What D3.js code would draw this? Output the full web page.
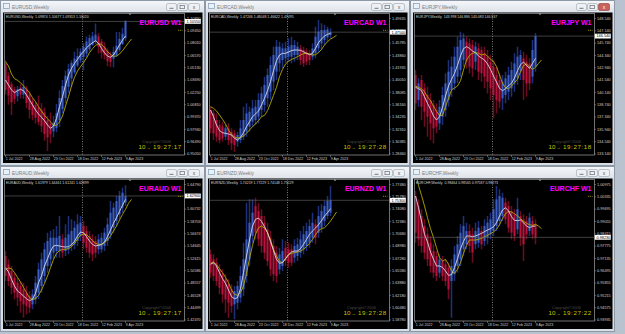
<!DOCTYPE html>
<html><head><meta charset="utf-8">
<script src="https://cdn.jsdelivr.net/npm/d3@7"></script>
<style>body{margin:0;background:#b9c3cf;overflow:hidden}svg{display:block}</style>
</head><body>
<svg id="c" width="625" height="334"></svg>
<script>
// ---------- data ----------
const xLabels = ["1 Jul 2022","28 Aug 2022","23 Oct 2022","18 Dec 2022","12 Feb 2023","9 Apr 2023"];
const xLabelBars = [0,8,16,24,32,40];
const pairNames = ["EURUSD","EURCAD","EURJPY","EURAUD","EURNZD","EURCHF"];
const headers = [
 "EURUSD,Weekly  1.09874 1.10677 1.09313 1.10020",
 "EURCAD,Weekly  1.47246 1.48048 1.46622 1.47495",
 "EURJPY,Weekly  143.998 146.886 143.083 146.537",
 "EURAUD,Weekly  1.61979 1.64461 1.61241 1.62899",
 "EURNZD,Weekly  1.74219 1.77229 1.74148 1.75229",
 "EURCHF,Weekly  0.98464 0.98565 0.97587 0.98273"];
const timers = ["19:27:17","19:27:28","19:27:18","19:27:17","19:27:28","19:27:22"];

const usdTicks = ["0.95050","0.96490","0.97930","0.99370","1.00810","1.02250","1.03690","1.05130","1.06570","1.08010","1.09450","1.10890"];
const cadTicks = ["1.28460","1.30385","1.32310","1.34235","1.36160","1.38085","1.40010","1.41935","1.43860","1.45785","1.47710","1.49635"];
const jpyTicks = ["133.140","134.540","135.940","137.340","138.740","140.140","141.540","142.940","144.340","145.740","147.140","148.540"];
const audTicks = ["1.42470","1.44499","1.46528","1.48557","1.50586","1.52615","1.54645","1.56674","1.58703","1.60732","1.62761","1.64790"];
const nzdTicks = ["1.58780","1.60480","1.62180","1.63880","1.65580","1.67280","1.68980","1.70680","1.72380","1.74080","1.75780","1.77480"];
const chfTicks = ["0.93935","0.94575","0.95215","0.95855","0.96495","0.97135","0.97775","0.98415","0.99055","0.99695","1.00335","1.00975"];

const usdO = [1.0560,1.0420,1.0320,1.0260,1.0180,1.0280,1.0200,1.0270,1.0200,1.0130,1.0080,1.0050,1.0020,0.9990,0.9900,0.9860,0.9770,0.9810,0.9900,1.0030,1.0160,1.0290,1.0390,1.0460,1.0540,1.0600,1.0640,1.0680,1.0730,1.0780,1.0820,1.0880,1.0820,1.0760,1.0710,1.0660,1.0620,1.0660,1.0720,1.0790,1.0860];
const usdH = [1.0600,1.0460,1.0350,1.0290,1.0300,1.0320,1.0370,1.0300,1.0240,1.0160,1.0110,1.0190,1.0100,1.0050,0.9950,0.9990,0.9950,1.0090,1.0250,1.0370,1.0480,1.0560,1.0600,1.0700,1.0740,1.0740,1.0800,1.0880,1.0900,1.0930,1.1030,1.0920,1.0850,1.0810,1.0740,1.0700,1.0760,1.0930,1.0930,1.0980,1.1070];
const usdL = [1.0200,1.0080,0.9960,1.0090,1.0120,1.0150,1.0150,1.0040,0.9920,0.9900,0.9860,0.9840,0.9760,0.9660,0.9540,0.9630,0.9700,0.9760,0.9820,0.9980,1.0100,1.0220,1.0290,1.0440,1.0520,1.0570,1.0480,1.0640,1.0700,1.0770,1.0790,1.0680,1.0620,1.0610,1.0530,1.0520,1.0520,1.0640,1.0700,1.0780,1.0830];
const usdC = [1.0250,1.0190,1.0110,1.0150,1.0260,1.0200,1.0290,1.0100,1.0020,0.9960,0.9930,0.9880,0.9830,0.9740,0.9700,0.9740,0.9870,0.9980,1.0160,1.0300,1.0420,1.0500,1.0570,1.0620,1.0650,1.0700,1.0760,1.0820,1.0860,1.0880,1.0900,1.0760,1.0690,1.0660,1.0590,1.0580,1.0700,1.0770,1.0850,1.0910,1.1055];
const usdW = [1.0370,1.0311,1.0253,1.0222,1.0245,1.0261,1.0245,1.0195,1.0136,1.0078,1.0019,0.9973,0.9934,0.9894,0.9844,0.9805,0.9832,0.9922,1.0058,1.0175,1.0311,1.0428,1.0506,1.0565,1.0612,1.0662,1.0701,1.0747,1.0779,1.0806,1.0829,1.0799,1.0740,1.0689,1.0650,1.0635,1.0662,1.0721,1.0779,1.0837,1.0884];
const usdY = [1.0584,1.0534,1.0440,1.0386,1.0366,1.0339,1.0300,1.0261,1.0222,1.0163,1.0117,1.0058,1.0008,0.9957,0.9918,0.9879,0.9840,0.9840,0.9879,0.9949,1.0066,1.0175,1.0300,1.0401,1.0475,1.0526,1.0572,1.0627,1.0689,1.0736,1.0775,1.0795,1.0787,1.0752,1.0701,1.0670,1.0647,1.0650,1.0674,1.0713,1.0759,1.0806,1.0849];

const cadO = [1.3533,1.3481,1.3377,1.3299,1.3273,1.3117,1.3247,1.3195,1.3169,1.3039,1.3065,1.3117,1.3195,1.3273,1.3351,1.3377,1.3429,1.3533,1.3612,1.3716,1.3820,1.3976,1.4133,1.4263,1.4315,1.4341,1.4367,1.4367,1.4393,1.4393,1.4497,1.4471,1.4445,1.4419,1.4367,1.4419,1.4497,1.4575,1.4627,1.4669,1.4705];
const cadH = [1.3586,1.3533,1.3481,1.3377,1.3351,1.3299,1.3325,1.3247,1.3221,1.3195,1.3377,1.3586,1.3638,1.3586,1.3690,1.3690,1.3794,1.3898,1.4054,1.4185,1.4367,1.4523,1.4627,1.4601,1.4575,1.4601,1.4653,1.4679,1.4627,1.4601,1.4549,1.4523,1.4497,1.4471,1.4575,1.4836,1.4940,1.4888,1.4862,1.4836,1.4810];
const cadL = [1.3169,1.3065,1.3039,1.3013,1.3039,1.3065,1.2987,1.2908,1.2882,1.2961,1.3013,1.3065,1.3117,1.3195,1.3273,1.3299,1.3325,1.3429,1.3507,1.3586,1.3690,1.3846,1.4002,1.4133,1.4185,1.4263,1.4289,1.4263,1.4289,1.4315,1.4237,1.4211,1.4237,1.4237,1.4315,1.4341,1.4419,1.4471,1.4549,1.4601,1.4653];
const cadC = [1.3247,1.3169,1.3117,1.3065,1.3091,1.3247,1.3065,1.3013,1.2987,1.3143,1.3247,1.3377,1.3481,1.3507,1.3559,1.3586,1.3690,1.3794,1.3924,1.4080,1.4237,1.4393,1.4523,1.4523,1.4497,1.4497,1.4523,1.4549,1.4549,1.4523,1.4315,1.4263,1.4289,1.4315,1.4497,1.4679,1.4758,1.4784,1.4784,1.4794,1.4750];
const cadW = [1.3534,1.3429,1.3299,1.3211,1.3179,1.3169,1.3159,1.3143,1.3091,1.3065,1.3106,1.3179,1.3273,1.3351,1.3429,1.3471,1.3518,1.3612,1.3716,1.3836,1.3976,1.4148,1.4304,1.4393,1.4419,1.4419,1.4440,1.4461,1.4471,1.4471,1.4466,1.4445,1.4419,1.4398,1.4419,1.4497,1.4586,1.4643,1.4690,1.4716,1.4731];
const cadY = [1.3586,1.3560,1.3518,1.3455,1.3388,1.3315,1.3221,1.3153,1.3112,1.3096,1.3101,1.3127,1.3169,1.3221,1.3273,1.3315,1.3367,1.3429,1.3450,1.3523,1.3638,1.3763,1.3888,1.4054,1.4169,1.4252,1.4294,1.4325,1.4341,1.4367,1.4393,1.4414,1.4419,1.4409,1.4393,1.4398,1.4429,1.4481,1.4549,1.4601,1.4643,1.4669,1.4700];

const jpyO = [142.12,139.28,141.55,140.60,139.84,139.28,138.71,138.14,136.62,137.38,138.14,139.28,140.41,141.17,141.93,142.69,143.82,145.91,145.72,145.53,143.63,145.15,144.96,144.58,144.20,143.63,143.06,142.12,141.55,139.47,139.84,140.22,140.60,141.17,141.74,142.50,144.01,143.63,143.44,141.93,143.06];
const jpyH = [142.69,141.74,142.12,141.17,140.79,140.03,139.28,138.90,139.28,140.79,142.31,143.82,144.20,145.34,146.47,147.04,146.85,146.47,146.28,146.09,145.91,145.72,145.34,145.34,144.96,144.39,143.82,143.06,142.31,142.12,142.50,143.06,143.63,144.58,145.34,144.96,144.77,144.39,144.01,146.09,146.89];
const jpyL = [138.14,138.52,137.00,136.25,135.11,134.73,134.35,135.49,135.87,136.44,137.38,138.52,139.65,140.41,141.17,141.93,143.06,142.87,142.31,141.93,142.69,141.55,141.36,140.60,140.03,139.28,137.19,137.76,138.33,138.14,138.90,139.28,139.65,140.22,140.98,141.55,139.28,139.65,140.41,141.17,142.50];
const jpyC = [138.90,141.17,138.52,137.95,137.38,136.62,136.06,136.25,138.52,139.84,141.17,142.50,143.06,144.20,145.34,146.09,146.28,143.63,143.06,142.87,145.34,142.50,142.31,141.93,141.36,140.60,139.84,139.28,139.09,141.36,141.74,142.12,142.69,143.44,144.20,144.39,141.55,141.17,141.17,144.96,146.54];
const jpyW = [140.72,140.56,140.34,139.65,138.90,138.22,137.46,137.00,137.38,138.44,139.73,140.87,141.63,142.31,143.22,144.28,145.11,145.34,145.15,144.84,144.66,144.28,144.05,143.82,143.37,142.76,142.00,141.32,140.60,140.34,140.56,140.91,141.17,141.78,142.61,143.29,143.59,143.22,142.87,143.44,144.01];
const jpyY = [140.87,140.72,140.56,140.22,139.65,139.20,138.59,137.99,137.53,137.53,138.52,139.47,140.41,140.64,140.87,141.47,142.69,143.82,144.35,144.58,144.66,144.58,144.39,144.50,144.28,143.90,143.67,143.06,142.12,141.17,140.68,140.56,140.87,141.25,141.63,142.50,143.18,143.37,143.06,142.76,142.99,143.44,143.82];

const audO = [1.5301,1.5164,1.5054,1.4944,1.4862,1.4807,1.4752,1.4697,1.4642,1.4505,1.4587,1.4697,1.4807,1.4972,1.5136,1.5246,1.5356,1.5383,1.5383,1.5576,1.5383,1.5411,1.5466,1.5493,1.5548,1.5631,1.5795,1.5713,1.5631,1.5576,1.5548,1.5411,1.5411,1.5466,1.5548,1.5658,1.5768,1.5878,1.5987,1.6097,1.6180];
const audH = [1.5383,1.5246,1.5136,1.5027,1.4944,1.4889,1.4862,1.4807,1.4725,1.4752,1.4972,1.5191,1.5356,1.5521,1.5685,1.5713,1.5740,1.5795,1.5960,1.5658,1.5823,1.5960,1.5905,1.5878,1.5987,1.5960,1.5878,1.5795,1.5713,1.5658,1.5631,1.5658,1.5685,1.5768,1.5932,1.6207,1.6180,1.6289,1.6372,1.6427,1.6465];
const audL = [1.4889,1.4807,1.4670,1.4587,1.4478,1.4368,1.4285,1.4340,1.4368,1.4423,1.4505,1.4587,1.4697,1.4862,1.5027,1.5136,1.5246,1.5274,1.5274,1.5274,1.5301,1.5329,1.5383,1.5411,1.5466,1.5548,1.5411,1.5356,1.5274,1.5219,1.5274,1.5329,1.5356,1.5383,1.5466,1.5576,1.5685,1.5795,1.5905,1.6015,1.6125];
const audC = [1.4972,1.4889,1.4780,1.4697,1.4615,1.4560,1.4505,1.4478,1.4450,1.4670,1.4862,1.5082,1.5246,1.5411,1.5548,1.5603,1.5603,1.5603,1.5631,1.5356,1.5603,1.5658,1.5713,1.5768,1.5823,1.5850,1.5521,1.5438,1.5356,1.5329,1.5356,1.5576,1.5603,1.5685,1.5823,1.6015,1.6097,1.6207,1.6289,1.6344,1.6290];
const audW = [1.5109,1.5038,1.4917,1.4807,1.4725,1.4686,1.4642,1.4598,1.4565,1.4587,1.4686,1.4862,1.4972,1.5136,1.5257,1.5383,1.5466,1.5477,1.5466,1.5455,1.5449,1.5455,1.5488,1.5543,1.5631,1.5696,1.5685,1.5620,1.5548,1.5493,1.5466,1.5477,1.5488,1.5532,1.5620,1.5729,1.5839,1.5932,1.6037,1.6136,1.6234];
const audY = [1.5071,1.5104,1.5093,1.5027,1.4950,1.4873,1.4785,1.4697,1.4615,1.4587,1.4598,1.4653,1.4741,1.4851,1.4972,1.5109,1.5246,1.5345,1.5389,1.5411,1.5411,1.5422,1.5455,1.5510,1.5576,1.5642,1.5663,1.5653,1.5609,1.5554,1.5510,1.5493,1.5493,1.5521,1.5565,1.5631,1.5713,1.5795,1.5894,1.5987,1.6070,1.6169,1.6234];

const nzdO = [1.6784,1.6715,1.6669,1.6577,1.6508,1.6439,1.6370,1.6301,1.6094,1.6117,1.6186,1.6301,1.6485,1.6715,1.7037,1.7451,1.7382,1.7313,1.7221,1.7129,1.7014,1.6899,1.6807,1.6577,1.6623,1.6876,1.6853,1.6853,1.6738,1.6761,1.6807,1.6853,1.6899,1.6945,1.7014,1.7198,1.7083,1.7152,1.7244,1.7313,1.7359];
const nzdH = [1.6853,1.6784,1.6738,1.6646,1.6577,1.6508,1.6439,1.6370,1.6347,1.6416,1.6623,1.6945,1.7497,1.7543,1.7543,1.7566,1.7497,1.7405,1.7313,1.7221,1.7106,1.6991,1.6899,1.6876,1.6991,1.6968,1.6945,1.6922,1.6991,1.7014,1.7106,1.7175,1.7221,1.7267,1.7359,1.7267,1.7451,1.7474,1.7520,1.7589,1.7727];
const nzdL = [1.6462,1.6416,1.6347,1.6232,1.6117,1.5979,1.5910,1.5979,1.5887,1.6025,1.6117,1.6209,1.6393,1.6623,1.6945,1.6991,1.6899,1.6807,1.6715,1.6623,1.6485,1.6416,1.6393,1.6508,1.6554,1.6623,1.6600,1.6623,1.6669,1.6692,1.6738,1.6784,1.6830,1.6876,1.6945,1.6922,1.7014,1.7083,1.7175,1.7267,1.7313];
const nzdC = [1.6531,1.6485,1.6416,1.6324,1.6232,1.6163,1.6117,1.6071,1.6278,1.6347,1.6485,1.6715,1.6991,1.7221,1.7359,1.7083,1.6991,1.6899,1.6807,1.6692,1.6577,1.6508,1.6485,1.6784,1.6830,1.6692,1.6669,1.6669,1.6899,1.6922,1.6991,1.7060,1.7106,1.7175,1.7221,1.7014,1.7313,1.7382,1.7451,1.7520,1.7530];
const nzdW = [1.6646,1.6669,1.6623,1.6531,1.6448,1.6384,1.6292,1.6200,1.6172,1.6186,1.6310,1.6531,1.6761,1.6982,1.7175,1.7267,1.7285,1.7239,1.7166,1.7083,1.6963,1.6835,1.6715,1.6660,1.6669,1.6724,1.6779,1.6816,1.6830,1.6830,1.6862,1.6922,1.6991,1.7060,1.7106,1.7147,1.7193,1.7249,1.7313,1.7359,1.7414];
const nzdY = [1.6660,1.6678,1.6641,1.6586,1.6531,1.6467,1.6393,1.6292,1.6232,1.6218,1.6255,1.6347,1.6522,1.6724,1.6908,1.7060,1.7152,1.7175,1.7147,1.7083,1.6982,1.6853,1.6761,1.6687,1.6669,1.6724,1.6779,1.6798,1.6807,1.6816,1.6830,1.6853,1.6890,1.6936,1.6991,1.7055,1.7111,1.7138,1.7152,1.7193,1.7244,1.7304,1.7368];

const chfO = [1.00377,0.99857,0.99338,0.98818,0.98385,0.97952,0.97519,0.97260,0.96394,0.97000,0.96827,0.96654,0.95961,0.96307,0.96740,0.97087,0.97606,0.97866,0.98558,0.98385,0.97866,0.97952,0.98558,0.98039,0.98212,0.98385,0.98558,0.98818,0.99078,0.99338,1.00030,0.99857,0.99597,0.99424,0.98645,0.99338,0.99165,0.99078,0.98558,0.99078,0.98905];
const chfH = [1.00636,1.00203,0.99684,0.99165,0.98732,0.98299,0.97866,0.97519,0.97346,0.97260,0.97087,0.96913,0.97087,0.97779,0.98299,0.98905,0.99338,0.98991,0.98905,0.98732,0.98991,0.99078,0.98818,0.99165,0.99338,0.99511,1.00203,1.00896,1.00723,1.00550,1.00290,1.00117,0.99857,0.99684,1.00290,0.99597,0.99424,0.99338,0.99511,0.99338,0.99165];
const chfL = [0.97952,0.97779,0.97433,0.97087,0.96740,0.96394,0.96134,0.95961,0.96134,0.95961,0.95701,0.95009,0.94056,0.95961,0.96394,0.96740,0.97260,0.97606,0.97433,0.96913,0.97606,0.97693,0.97606,0.97779,0.97866,0.98125,0.98299,0.98558,0.98818,0.99078,0.98905,0.98472,0.98125,0.98039,0.98385,0.97779,0.97000,0.98125,0.98299,0.98125,0.97866];
const chfC = [0.98472,0.98125,0.97779,0.97433,0.97087,0.96740,0.96394,0.96221,0.97087,0.96221,0.95961,0.95528,0.96740,0.97346,0.97866,0.98472,0.98818,0.98558,0.97779,0.97433,0.98558,0.98732,0.97866,0.98818,0.98991,0.99165,0.99684,1.00203,1.00377,1.00290,0.99165,0.98732,0.98472,0.98299,0.99684,0.98212,0.97866,0.98385,0.99251,0.98385,0.98230];
const chfW = [1.00377,0.99770,0.99078,0.98385,0.97987,0.97467,0.97087,0.96740,0.96740,0.96671,0.96480,0.96255,0.96290,0.96654,0.97121,0.97641,0.98022,0.98299,0.98299,0.98264,0.98299,0.98368,0.98437,0.98524,0.98610,0.98680,0.98783,0.98991,0.99338,0.99649,0.99770,0.99597,0.99303,0.99112,0.99095,0.99130,0.98991,0.98818,0.98732,0.98801,0.98818];
const chfY = [1.01589,1.00931,1.00411,0.99857,0.99251,0.98680,0.98212,0.97693,0.97173,0.97000,0.97087,0.96827,0.96480,0.96359,0.96567,0.96913,0.97398,0.97814,0.98091,0.98091,0.98091,0.98125,0.98177,0.98264,0.98333,0.98420,0.98506,0.98645,0.98887,0.99199,0.99459,0.99580,0.99545,0.99459,0.99338,0.99199,0.99061,0.98957,0.98887,0.98853,0.98905,0.98818,0.98680];

// ---------- drawing ----------
const series = [
 {o:usdO,h:usdH,l:usdL,c:usdC,w:usdW,y:usdY,t:usdTicks,d:5},
 {o:cadO,h:cadH,l:cadL,c:cadC,w:cadW,y:cadY,t:cadTicks,d:5},
 {o:jpyO,h:jpyH,l:jpyL,c:jpyC,w:jpyW,y:jpyY,t:jpyTicks,d:3},
 {o:audO,h:audH,l:audL,c:audC,w:audW,y:audY,t:audTicks,d:5},
 {o:nzdO,h:nzdH,l:nzdL,c:nzdC,w:nzdW,y:nzdY,t:nzdTicks,d:5},
 {o:chfO,h:chfH,l:chfL,c:chfC,w:chfW,y:chfY,t:chfTicks,d:5}];

const svg = d3.select("#c");
const defs = svg.append("defs");
const tg = defs.append("linearGradient").attr("id","tb").attr("x1",0).attr("y1",0).attr("x2",0).attr("y2",1);
tg.append("stop").attr("offset","0%").attr("stop-color","#f4f6f9");
tg.append("stop").attr("offset","100%").attr("stop-color","#dfe4ea");
defs.append("clipPath").attr("id","pc").append("rect").attr("x",4.5).attr("y",13.5).attr("width",180).attr("height",141.5);

const F = "Arial, 'Liberation Sans', sans-serif";
const x = d3.scaleLinear().domain([0,60]).range([5,185]);

series.forEach((s,k)=>{
  const col = k%3, row = Math.floor(k/3);
  const g = svg.append("g").attr("transform",`translate(${col*205},${row*166})`);
  // window chrome
  g.append("rect").attr("x",0.5).attr("y",0.5).attr("width",204).attr("height",165).attr("fill","#d7dee6").attr("stroke","#8d99a6");
  g.append("rect").attr("x",1).attr("y",1).attr("width",203).attr("height",11).attr("fill","url(#tb)");
  g.append("rect").attr("x",3.5).attr("y",3.5).attr("width",6).attr("height",5).attr("fill","#e8f0f8").attr("stroke","#7f9ab5").attr("stroke-width",0.7);
  g.append("text").attr("x",12).attr("y",8.6).attr("font-family",F).attr("font-size",4.8).attr("fill","#7d7d7d").text(pairNames[k]+",Weekly");
  [166,177,188].forEach((bx,bi)=>{
    const red = (k===2 && bi===2);
    g.append("rect").attr("x",bx+0.5).attr("y",3.5).attr("width",bi===2?11:10).attr("height",7).attr("rx",1.5)
      .attr("fill",red?"#c9605a":"#eef1f4").attr("stroke",red?"#8a3a35":"#9aa4ae").attr("stroke-width",0.6);
  });
  g.append("line").attr("x1",169.5).attr("x2",173.5).attr("y1",8.3).attr("y2",8.3).attr("stroke","#556").attr("stroke-width",0.8);
  g.append("rect").attr("x",180).attr("y",5.3).attr("width",4.5).attr("height",3.4).attr("fill","none").attr("stroke","#556").attr("stroke-width",0.6);
  g.append("text").attr("x",194).attr("y",9.2).attr("text-anchor","middle").attr("font-family",F).attr("font-size",5).attr("fill",k===2?"#fff":"#556").text("x");
  // black chart area
  g.append("rect").attr("x",3).attr("y",12.5).attr("width",199.5).attr("height",150.5).attr("fill","#000");

  const y = d3.scaleLinear().domain([+s.t[0], +s.t[11]]).range([154,18.5]);
  const pc = g.append("g").attr("clip-path","url(#pc)");

  // period separator
  pc.append("line").attr("x1",82.5).attr("x2",82.5).attr("y1",13.5).attr("y2",155).attr("stroke","#9a9a9a").attr("stroke-width",0.8).attr("stroke-dasharray","1,1.5");

  const idx = d3.range(s.o.length);
  // wicks
  pc.selectAll(".wk").data(idx).join("line")
    .attr("x1",i=>x(i)+0.5).attr("x2",i=>x(i)+0.5)
    .attr("y1",i=>y(s.h[i])).attr("y2",i=>y(s.l[i]))
    .attr("stroke",i=>s.c[i]>=s.o[i]?"#1e307c":"#6c0c22").attr("stroke-width",1.5);
  // bodies
  pc.selectAll(".bd").data(idx).join("rect")
    .attr("x",i=>x(i)-0.5).attr("width",2)
    .attr("y",i=>y(Math.max(s.o[i],s.c[i])))
    .attr("height",i=>Math.max(1,Math.abs(y(s.o[i])-y(s.c[i]))))
    .attr("fill",i=>s.c[i]>=s.o[i]?"#3a5ec4":"#ba123c");
  // yellow MA
  pc.append("path").datum(s.y).attr("fill","none").attr("stroke","#b4a800").attr("stroke-width",0.9)
    .attr("d",d3.line().x((v,i)=>x(i)+0.5).y(v=>y(v)));
  // white MA
  pc.append("path").datum(s.w).attr("fill","none").attr("stroke","#e2e2f0").attr("stroke-width",0.85)
    .attr("d",d3.line().x((v,i)=>x(i)+0.5).y(v=>y(v)));

  // current price line
  const last = s.c[s.c.length-1];
  g.append("line").attr("x1",4.5).attr("x2",184).attr("y1",y(last)).attr("y2",y(last)).attr("stroke","#6a6a6a").attr("stroke-width",0.6);

  // frame
  g.append("rect").attr("x",4.5).attr("y",13.5).attr("width",180).attr("height",141.5).attr("fill","none").attr("stroke","#a0a0a0").attr("stroke-width",0.7);
  // shift marker
  g.append("path").attr("d","M128.5,13.6 L131.5,13.6 L130,15.2 Z").attr("fill","#a0a0a0");

  // y axis labels
  s.t.forEach(tv=>{
    const yy = y(+tv);
    g.append("line").attr("x1",184.5).attr("x2",186).attr("y1",yy).attr("y2",yy).attr("stroke","#a0a0a0").attr("stroke-width",0.5);
    g.append("text").attr("x",187).attr("y",yy+1.3).attr("font-family",F).attr("font-size",3.8).attr("fill","#cfcfcf").text(tv);
  });
  // current price label
  const cy = y(last);
  g.append("rect").attr("x",184.8).attr("y",cy-2.4).attr("width",16).attr("height",4.8).attr("fill","#ffffff");
  g.append("text").attr("x",186.5).attr("y",cy+1.4).attr("font-family",F).attr("font-size",3.8).attr("fill","#000").text(last.toFixed(s.d));

  // x axis labels
  xLabelBars.forEach((b,j)=>{
    g.append("line").attr("x1",x(b)+0.5).attr("x2",x(b)+0.5).attr("y1",155).attr("y2",157).attr("stroke","#a0a0a0").attr("stroke-width",0.5);
    g.append("text").attr("x",x(b)+0.8).attr("y",160.2).attr("font-family",F).attr("font-size",3.6).attr("fill","#cfcfcf").text(xLabels[j]);
  });

  // header, title, marker
  g.append("text").attr("x",6).attr("y",17.8).attr("font-family",F).attr("font-size",3.5).attr("fill","#d8d8d8").attr("xml:space","preserve").text(headers[k]);
  g.append("text").attr("x",181.5).attr("y",24.6).attr("text-anchor","end").attr("font-family",F).attr("font-weight","bold").attr("font-size",7).attr("fill","#ff00ff").text(pairNames[k]+" W1");
  g.append("line").attr("x1",178).attr("x2",182.5).attr("y1",30.3).attr("y2",30.3).attr("stroke","#b4a800").attr("stroke-width",0.8).attr("stroke-dasharray","1.2,0.8");

  // copyright + timer
  g.append("text").attr("x",142).attr("y",143).attr("font-family",F).attr("font-size",4).attr("fill","#4a4a4a").text("Copyright©2006");
  g.append("text").attr("x",138.5).attr("y",149.3).attr("font-family",F).attr("font-size",6.2).attr("fill","#c8c400").text("10");
  g.append("text").attr("x",146.5).attr("y",149).attr("font-family",F).attr("font-size",4).attr("fill","#c8c400").text("→");
  g.append("text").attr("x",153).attr("y",149.3).attr("font-family",F).attr("font-size",6.2).attr("fill","#c8c400").attr("letter-spacing",0.6).text(timers[k]);
});
</script>
</body></html>
